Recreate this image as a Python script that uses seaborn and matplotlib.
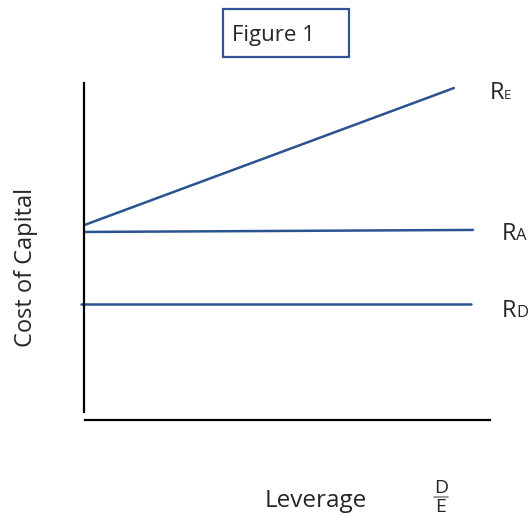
import matplotlib
matplotlib.use("Agg")
import matplotlib.pyplot as plt
from matplotlib.patches import Rectangle
from matplotlib.lines import Line2D
import pandas as pd
import seaborn as sns

# schematic values (leverage on x, cost of capital on y, both 0..10)
series = ["R_E", "R_A", "R_D"]
leverage_start = [0.02, 0.02, -0.07]
leverage_end = [9.11, 9.58, 9.53]
cost_start = [5.79, 5.58, 3.44]
cost_end = [9.85, 5.64, 3.44]
label_main = ["R", "R", "R"]
label_sub = ["E", "A", "D"]

sns.set_style("white")
plt.rcParams["font.family"] = ["Open Sans", "DejaVu Sans"]

W, H = 528, 516
LINE = "#2a5490"


def fx(px):
    return px / W


def fy(py):
    return 1 - py / H


rows = []
for name, x0, x1, y0, y1 in zip(series, leverage_start, leverage_end, cost_start, cost_end):
    rows.append({"series": name, "leverage": x0, "cost": y0})
    rows.append({"series": name, "leverage": x1, "cost": y1})
df = pd.DataFrame(rows)

fig = plt.figure(figsize=(W / 100, H / 100), dpi=100)
ax = fig.add_axes([fx(84), fy(420), (490 - 84) / W, (420 - 83) / H])

sns.lineplot(data=df, x="leverage", y="cost", hue="series", units="series",
             estimator=None, palette={s: LINE for s in series}, legend=False,
             linewidth=1.8, ax=ax)
for ln in ax.get_lines():
    ln.set_clip_on(False)

ax.set_xlim(0, 10)
ax.set_ylim(0, 10)
ax.set_xticks([])
ax.set_yticks([])
ax.set_xlabel("")
ax.set_ylabel("")
for side in ["top", "right"]:
    ax.spines[side].set_visible(False)
for side in ["left", "bottom"]:
    ax.spines[side].set_color("black")
    ax.spines[side].set_linewidth(1.6)
ax.spines["left"].set_bounds(0.24, 10)
ax.spines["bottom"].set_bounds(0.02, 10)

# line labels with subscripts
baselines = [99, 240, 317]
sub_sizes = [9.5, 12, 12]
for main, sub, base, ss in zip(label_main, label_sub, baselines, sub_sizes):
    fig.text(fx(490 if sub == "E" else 502), fy(base), main, fontsize=17,
             ha="left", va="baseline")
    fig.text(fx(504 if sub == "E" else 516), fy(base), sub, fontsize=ss,
             ha="left", va="baseline")

# title box
fig.patches.append(Rectangle((fx(223), fy(57)), (349 - 223) / W, (57 - 9) / H,
                             transform=fig.transFigure, fill=False,
                             edgecolor="#2f5597", linewidth=1.6))
fig.text(fx(232), fy(41), "Figure 1", fontsize=16, ha="left", va="baseline")

# axis titles
fig.text(fx(32), fy(267), "Cost of Capital", fontsize=17, rotation=90,
         ha="center", va="baseline", rotation_mode="anchor")
fig.text(fx(316), fy(507), "Leverage", fontsize=17.5, ha="center", va="baseline")

# D/E fraction
fig.text(fx(441), fy(493), "D", fontsize=14, ha="center", va="baseline")
fig.lines.append(Line2D([fx(434), fx(448)], [fy(496.5), fy(496.5)],
                        transform=fig.transFigure, color="#888888", linewidth=1.2))
fig.text(fx(441), fy(512), "E", fontsize=14, ha="center", va="baseline")

fig.savefig("out.png", dpi=100)
